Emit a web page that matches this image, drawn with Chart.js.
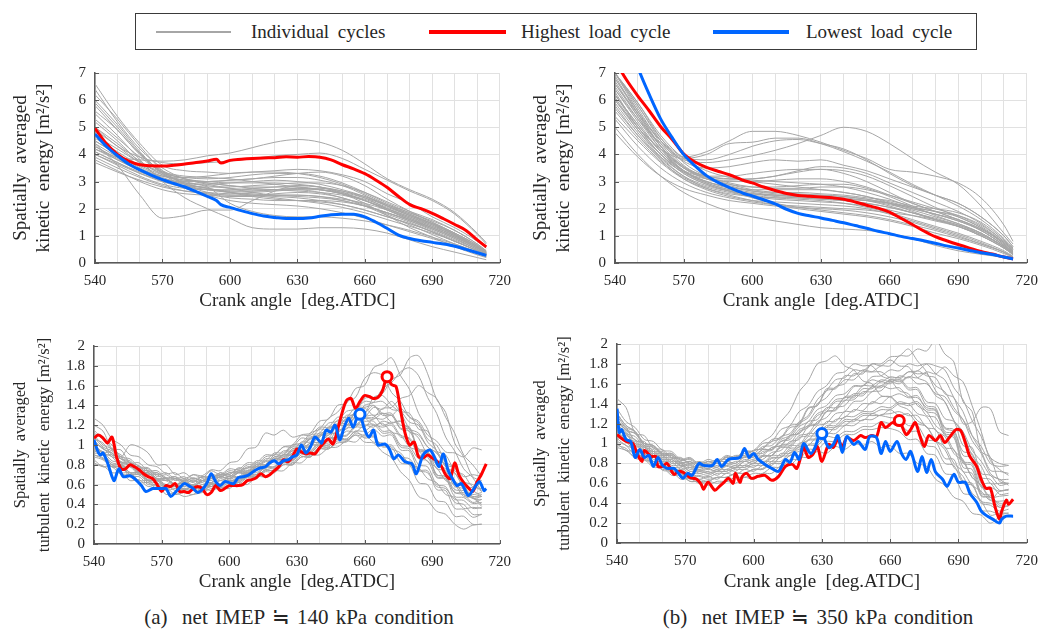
<!DOCTYPE html>
<html>
<head>
<meta charset="utf-8">
<title>Kinetic energy and turbulent kinetic energy over crank angle</title>
<script src="https://cdn.jsdelivr.net/npm/chart.js@4.4.1/dist/chart.umd.min.js"></script>
<style>
  html, body { margin: 0; padding: 0; background: #fff; }
  body { width: 1047px; height: 631px; position: relative; overflow: hidden;
         font-family: "Liberation Serif", "Times New Roman", serif; color: #262626; }
  canvas { position: absolute; }
  #legend { position: absolute; left: 135px; top: 13px; width: 842px; height: 37px;
            border: 1px solid #3a3a3a; box-sizing: border-box; }
  .sw { position: absolute; top: 50%; }
  .lt { position: absolute; top: 50%; transform: translateY(-52%); font-size: 19px;
        word-spacing: 4px; white-space: nowrap; }
  .cap { position: absolute; top: 605px; font-size: 21px; white-space: nowrap;
         transform: translateX(-50%); word-spacing: 2px; }
</style>
</head>
<body>
<div id="legend">
  <div class="sw" style="left:20px;width:75px;height:2px;margin-top:-1px;background:#a6a6a6"></div>
  <div class="lt" style="left:115px">Individual cycles</div>
  <div class="sw" style="left:293px;width:77px;height:4px;margin-top:-2px;background:#ff0000"></div>
  <div class="lt" style="left:385px">Highest load cycle</div>
  <div class="sw" style="left:577px;width:76px;height:4px;margin-top:-2px;background:#0066ff"></div>
  <div class="lt" style="left:670px">Lowest load cycle</div>
</div>
<canvas id="keA" width="520" height="257" style="left:0;top:55px"></canvas>
<canvas id="keB" width="527" height="257" style="left:520px;top:55px"></canvas>
<canvas id="tkeA" width="520" height="277" style="left:0;top:316px"></canvas>
<canvas id="tkeB" width="527" height="279" style="left:520px;top:314px"></canvas>
<div class="cap" style="left:299px">(a)&nbsp; net IMEP ≒ 140 kPa condition</div>
<div class="cap" style="left:818px">(b)&nbsp; net IMEP ≒ 350 kPa condition</div>
<script>
// ---------- crank angle grids [deg.ATDC] ----------
const ANGLES_10 = [540,550,560,570,580,590,600,610,620,630,640,650,660,670,680,690,700,710,714];
const ANGLES_5 = [540,545,550,555,560,565,570,575,580,585,590,594,596,600,605,610,615,620,625,630,635,640,645,650,655,660,665,670,675,680,685,690,695,700,705,710,714];
const TKE_ANGLES = [540,544,548,552,556,560,564,568,572,576,580,584,588,592,596,600,604,608,612,616,620,624,628,632,636,640,644,648,652,656,660,664,668,672,676,680,684,688,692,696,700,704,708,712];

// ---------- (a) 140 kPa : spatially averaged kinetic energy [m2/s2] ----------
const keA_cycles = [
  [4.2,3.9,3.8,3.75,3.8,3.95,4.05,4.25,4.45,4.55,4.45,4.15,3.65,3.1,2.7,2.35,1.85,1.1,0.75],
  [5.0,4.3,3.9,3.7,3.65,3.7,3.75,3.85,3.95,4.0,4.05,3.85,3.45,3.05,2.65,2.3,1.8,1.05,0.7],
  [6.6,5.4,4.4,3.6,3.4,3.35,3.3,3.35,3.4,3.45,3.4,3.25,3.0,2.55,2.2,1.7,1.3,0.8,0.55],
  [4.4,3.6,2.5,1.65,1.75,1.95,1.95,2.3,2.65,2.85,2.8,2.55,2.2,1.75,1.3,0.95,0.6,0.3,0.2],
  [5.5,4.7,3.8,3.0,2.4,2.0,1.65,1.3,1.25,1.25,1.3,1.3,1.25,1.1,0.85,0.6,0.4,0.2,0.12],
  [6.2,5.3,4.3,3.4,2.9,2.6,2.5,2.5,2.55,2.6,2.55,2.4,2.1,1.75,1.4,1.05,0.7,0.4,0.25],
  [5.8,4.9,4.0,3.3,3.0,2.85,2.75,2.7,2.7,2.7,2.6,2.4,2.15,1.8,1.5,1.15,0.8,0.45,0.3],
  [4.0,3.6,3.2,2.9,2.75,2.7,2.7,2.75,2.8,2.85,2.8,2.65,2.4,2.0,1.65,1.3,0.95,0.55,0.35],
  [4.3,3.8,3.4,3.1,2.95,2.9,2.95,3.0,3.05,3.0,2.9,2.7,2.45,2.1,1.8,1.45,1.05,0.6,0.4],
  [3.8,3.4,3.0,2.7,2.55,2.5,2.45,2.45,2.5,2.5,2.45,2.3,2.1,1.85,1.55,1.2,0.85,0.5,0.3],
  [4.5,4.0,3.55,3.2,3.05,3.0,3.05,3.1,3.2,3.3,3.35,3.2,2.85,2.35,1.9,1.5,1.1,0.65,0.4],
  [6.0,5.1,4.1,3.3,2.8,2.5,2.3,2.2,2.15,2.1,2.0,1.85,1.65,1.4,1.15,0.9,0.65,0.35,0.22],
  [5.2,4.5,3.7,3.1,2.75,2.55,2.4,2.35,2.3,2.3,2.25,2.15,1.95,1.7,1.45,1.15,0.8,0.45,0.28],
  [4.1,3.7,3.3,3.0,2.85,2.8,2.8,2.85,2.9,2.95,2.95,2.85,2.6,2.25,1.9,1.6,1.2,0.7,0.45],
  [4.6,4.1,3.6,3.25,3.05,2.95,2.85,2.75,2.7,2.65,2.6,2.5,2.3,2.0,1.7,1.4,1.05,0.6,0.38],
  [5.6,4.9,4.0,3.4,3.1,3.0,2.95,2.95,2.95,2.9,2.8,2.6,2.3,1.95,1.6,1.3,0.95,0.55,0.35],
  [3.9,3.5,3.15,2.85,2.65,2.55,2.5,2.5,2.45,2.4,2.3,2.15,1.95,1.7,1.45,1.15,0.8,0.45,0.28],
  [4.9,4.3,3.7,3.3,3.15,3.1,3.15,3.25,3.3,3.3,3.2,2.95,2.6,2.2,1.85,1.5,1.1,0.65,0.42],
  [4.4,3.9,3.4,3.0,2.8,2.7,2.6,2.5,2.4,2.3,2.2,2.05,1.85,1.6,1.35,1.1,0.8,0.45,0.25],
  [6.4,5.2,4.2,3.5,3.1,2.9,2.75,2.6,2.5,2.45,2.4,2.3,2.1,1.85,1.55,1.25,0.9,0.5,0.3],
  [4.2,3.8,3.45,3.2,3.15,3.2,3.3,3.35,3.35,3.3,3.15,2.9,2.55,2.15,1.8,1.45,1.05,0.6,0.38],
  [4.0,3.65,3.3,3.05,2.9,2.75,2.6,2.45,2.35,2.3,2.3,2.25,2.1,1.85,1.6,1.3,0.95,0.55,0.32],
  [5.0,4.4,3.75,3.25,2.95,2.8,2.2,1.9,1.75,1.7,1.7,1.65,1.55,1.4,1.2,0.95,0.7,0.4,0.25],
  [4.7,4.2,3.7,3.35,3.2,3.15,3.1,3.0,2.9,2.8,2.7,2.55,2.35,2.05,1.75,1.45,1.1,0.65,0.42],
  [3.7,3.35,3.05,2.8,2.65,2.6,2.55,2.6,2.65,2.7,2.7,2.6,2.4,2.1,1.75,1.45,1.05,0.6,0.35],
  [5.3,4.6,3.9,3.35,3.1,2.95,2.85,2.8,2.8,2.8,2.7,2.55,2.3,2.0,1.7,1.35,1.0,0.55,0.35],
  [4.3,3.85,3.4,3.05,2.85,2.7,2.6,2.55,2.5,2.5,2.45,2.35,2.2,1.95,1.65,1.35,1.0,0.6,0.36],
  [5.9,5.0,4.05,3.35,2.95,2.75,2.65,2.65,2.7,2.75,2.7,2.55,2.3,1.95,1.6,1.25,0.9,0.5,0.3],
  [4.5,4.0,3.5,3.15,2.9,2.75,2.65,2.65,2.7,2.75,2.75,2.65,2.45,2.15,1.85,1.55,1.2,0.7,0.45],
  [4.1,3.7,3.35,3.1,3.0,3.0,3.05,3.1,3.15,3.15,3.05,2.85,2.5,2.1,1.75,1.4,1.0,0.6,0.38]
];
const keA_high = [4.96,4.4,4.0,3.75,3.62,3.58,3.57,3.6,3.65,3.7,3.76,3.82,3.68,3.78,3.82,3.85,3.87,3.88,3.91,3.9,3.92,3.9,3.8,3.62,3.47,3.29,3.05,2.78,2.45,2.15,2.0,1.83,1.63,1.42,1.2,0.85,0.59];
const keA_low = [4.75,4.3,3.95,3.65,3.43,3.24,3.07,2.93,2.8,2.63,2.45,2.3,2.15,2.05,1.93,1.82,1.73,1.68,1.64,1.64,1.66,1.72,1.78,1.8,1.8,1.7,1.5,1.27,1.03,0.9,0.82,0.76,0.7,0.62,0.5,0.38,0.28];

// ---------- (b) 350 kPa : spatially averaged kinetic energy [m2/s2] ----------
const keB_cycles = [
  [6.2,5.0,4.2,3.8,3.7,3.8,3.95,4.15,4.4,4.7,5.0,4.85,4.4,3.85,3.35,2.9,2.1,1.1,0.7],
  [6.6,5.5,4.5,3.9,4.1,4.5,4.85,4.85,4.7,4.45,4.15,3.85,3.45,3.35,3.2,2.95,2.4,1.4,0.8],
  [6.4,5.3,4.4,3.85,4.0,4.4,4.45,4.6,4.6,4.4,4.1,3.75,3.35,2.9,2.5,2.1,1.6,0.9,0.55],
  [7.0,5.8,4.6,3.9,3.8,4.0,4.3,4.5,4.55,4.4,4.2,3.8,3.3,2.85,2.5,2.2,1.7,1.0,0.6],
  [6.8,5.6,4.5,3.75,3.5,3.55,3.7,3.8,3.75,3.8,3.6,3.4,3.1,2.8,2.5,2.2,1.7,1.0,0.6],
  [6.0,4.9,4.0,3.4,3.2,3.2,3.3,3.4,3.45,3.45,3.3,3.0,2.6,2.2,1.9,1.6,1.25,0.75,0.45],
  [5.0,4.0,3.2,2.6,2.2,1.9,1.7,1.55,1.42,1.3,1.25,1.2,1.1,0.9,0.65,0.45,0.32,0.2,0.12],
  [4.8,3.9,3.2,2.75,2.5,2.3,2.2,2.1,2.05,2.0,1.95,1.85,1.7,1.5,1.25,1.0,0.7,0.4,0.22],
  [6.3,5.0,4.0,3.3,2.9,2.65,2.5,2.4,2.35,2.3,2.2,2.05,1.85,1.6,1.35,1.1,0.8,0.45,0.25],
  [7.0,5.6,4.3,3.4,2.95,2.7,2.55,2.5,2.45,2.45,2.4,2.3,2.1,1.85,1.6,1.35,1.0,0.55,0.3],
  [6.7,5.4,4.2,3.4,3.0,2.8,2.7,2.7,2.7,2.7,2.6,2.45,2.2,1.9,1.6,1.35,1.0,0.55,0.32],
  [5.6,4.6,3.75,3.15,2.8,2.6,2.45,2.35,2.3,2.25,2.2,2.1,1.95,1.75,1.55,1.35,1.05,0.6,0.35],
  [6.1,4.9,3.9,3.2,2.75,2.5,2.3,2.15,2.0,1.9,1.8,1.7,1.55,1.35,1.1,0.9,0.65,0.35,0.2],
  [7.0,5.9,4.6,3.7,3.2,2.95,2.8,2.75,2.75,2.8,2.8,2.7,2.5,2.25,2.0,1.75,1.35,0.75,0.45],
  [6.5,5.3,4.2,3.5,3.1,2.85,2.65,2.55,2.5,2.5,2.45,2.35,2.2,2.0,1.8,1.6,1.25,0.7,0.4],
  [5.9,4.8,3.85,3.2,2.85,2.65,2.55,2.5,2.45,2.4,2.35,2.3,2.15,1.95,1.7,1.45,1.1,0.6,0.35],
  [5.3,4.3,3.5,2.95,2.6,2.4,2.25,2.15,2.1,2.05,2.0,1.95,1.85,1.75,1.6,1.4,1.05,0.6,0.35],
  [7.0,5.7,4.4,3.55,3.15,3.0,3.0,3.05,3.1,3.1,3.0,2.8,2.5,2.2,1.9,1.6,1.2,0.65,0.38],
  [6.9,5.5,4.3,3.5,3.1,2.9,2.8,2.8,2.85,2.9,2.9,2.75,2.45,2.1,1.75,1.45,1.1,0.6,0.35],
  [6.2,5.1,4.1,3.4,3.0,2.8,2.65,2.6,2.6,2.55,2.5,2.4,2.3,2.1,2.0,1.85,1.5,0.85,0.5],
  [5.8,4.7,3.8,3.1,2.7,2.45,2.3,2.25,2.2,2.15,2.1,2.0,1.8,1.55,1.3,1.05,0.75,0.4,0.22],
  [6.6,5.4,4.3,3.55,3.2,3.1,3.1,3.2,3.35,3.45,3.4,3.2,2.85,2.45,2.05,1.7,1.3,0.75,0.45],
  [5.4,4.5,3.7,3.1,2.75,2.55,2.45,2.4,2.4,2.35,2.3,2.2,2.05,1.85,1.6,1.35,1.0,0.55,0.32],
  [7.0,5.8,4.5,3.6,3.15,2.9,2.7,2.6,2.55,2.5,2.45,2.35,2.2,2.0,1.8,1.55,1.2,0.65,0.4],
  [6.4,5.2,4.1,3.35,2.95,2.7,2.55,2.45,2.4,2.35,2.3,2.2,2.05,1.85,1.65,1.4,1.1,0.6,0.35],
  [6.0,5.0,4.0,3.3,2.9,2.65,2.4,2.2,2.05,1.95,1.85,1.75,1.6,1.4,1.2,0.95,0.7,0.4,0.23],
  [5.7,4.7,3.9,3.35,3.1,3.05,3.1,3.2,3.4,3.55,3.5,3.3,2.95,2.6,2.25,1.9,1.45,0.8,0.5],
  [6.8,5.5,4.3,3.5,3.2,3.1,3.05,3.0,2.95,2.9,2.8,2.6,2.35,2.05,1.8,1.55,1.2,0.65,0.4],
  [7.0,5.9,4.7,3.85,3.4,3.15,3.0,2.9,2.8,2.7,2.6,2.45,2.25,2.05,1.9,1.7,1.3,0.7,0.42],
  [6.2,5.1,4.1,3.4,3.0,2.75,2.6,2.5,2.45,2.4,2.35,2.3,2.2,2.05,1.9,1.75,1.4,0.8,0.5]
];
const keB_high = [7.45,6.75,6.15,5.6,5.02,4.55,4.02,3.72,3.52,3.38,3.25,3.12,3.05,2.95,2.8,2.67,2.56,2.49,2.46,2.43,2.4,2.35,2.25,2.13,2.02,1.87,1.65,1.42,1.18,0.97,0.82,0.68,0.55,0.43,0.33,0.22,0.15];
const keB_low = [9.6,8.4,7.2,6.2,5.3,4.62,4.0,3.58,3.22,2.97,2.78,2.64,2.57,2.47,2.33,2.18,1.98,1.83,1.74,1.66,1.57,1.48,1.38,1.28,1.17,1.08,0.98,0.9,0.82,0.73,0.63,0.55,0.46,0.38,0.31,0.22,0.15];

// ---------- (a) 140 kPa : spatially averaged turbulent kinetic energy [m2/s2] ----------
const tkeA_cycles = [
  [1.05,0.96,0.92,0.83,0.8,0.71,0.72,0.64,0.64,0.58,0.65,0.59,0.64,0.67,0.61,0.69,0.68,0.74,0.76,0.83,0.83,0.9,0.9,1.0,0.99,1.1,1.07,1.2,1.19,1.33,1.32,1.48,1.52,1.66,1.71,1.88,1.9,1.72,1.46,1.33,1.02,0.88,0.68,0.64],
  [1.12,1.06,0.95,0.9,0.82,0.79,0.73,0.72,0.66,0.66,0.63,0.67,0.64,0.7,0.69,0.74,0.73,0.8,0.8,0.88,0.9,0.98,1.0,1.1,1.12,1.24,1.26,1.4,1.42,1.57,1.6,1.78,1.82,1.88,1.7,1.56,1.32,1.16,0.94,0.82,0.64,0.57,0.46,0.45],
  [0.95,0.92,0.8,0.8,0.7,0.72,0.64,0.64,0.58,0.6,0.54,0.59,0.53,0.6,0.58,0.64,0.62,0.68,0.68,0.75,0.74,0.82,0.8,0.88,0.88,0.96,0.96,1.02,1.03,1.1,1.03,1.02,0.93,0.87,0.73,0.64,0.48,0.44,0.33,0.3,0.2,0.15,0.19,0.2],
  [1.27,1.2,1.06,1.0,0.9,0.88,0.8,0.78,0.71,0.72,0.66,0.7,0.67,0.74,0.7,0.76,0.75,0.82,0.82,0.9,0.9,0.98,0.98,1.07,1.06,1.16,1.15,1.25,1.24,1.33,1.29,1.3,1.2,1.22,1.1,1.07,0.96,0.93,0.8,0.76,0.62,0.58,0.48,0.48],
  [0.98,0.9,0.97,0.88,1.0,0.98,0.92,0.8,0.8,0.7,0.72,0.66,0.68,0.68,0.7,0.7,0.76,0.74,0.82,0.8,0.88,0.88,0.94,0.96,1.02,1.03,1.1,1.13,1.2,1.2,1.27,1.2,1.22,1.13,1.1,0.98,0.94,0.83,0.77,0.64,0.6,0.48,0.47,0.4],
  [0.9,0.86,0.78,0.78,0.7,0.7,0.64,0.66,0.6,0.66,0.64,0.7,0.69,0.75,0.74,0.82,0.84,0.96,0.98,1.12,1.1,1.15,1.08,1.1,1.1,1.18,1.18,1.28,1.28,1.38,1.38,1.4,1.3,1.3,1.16,1.14,0.96,0.94,0.76,0.74,0.58,0.56,0.48,0.5],
  [0.85,0.78,0.78,0.7,0.7,0.62,0.62,0.56,0.57,0.5,0.52,0.5,0.56,0.54,0.57,0.56,0.62,0.6,0.68,0.68,0.74,0.74,0.82,0.82,0.9,0.9,0.97,0.98,1.04,1.03,1.1,1.03,1.02,0.96,0.92,0.8,0.77,0.66,0.62,0.5,0.47,0.36,0.37,0.36],
  [1.02,0.97,0.88,0.86,0.78,0.78,0.7,0.7,0.64,0.66,0.6,0.65,0.6,0.66,0.64,0.68,0.67,0.72,0.72,0.78,0.77,0.86,0.86,0.95,0.94,1.04,1.04,1.15,1.16,1.28,1.28,1.38,1.36,1.44,1.34,1.32,1.16,1.14,0.94,0.9,0.74,0.7,0.58,0.62],
  [1.08,0.98,0.94,0.86,0.82,0.73,0.74,0.66,0.66,0.58,0.6,0.58,0.64,0.58,0.66,0.64,0.72,0.72,0.78,0.78,0.86,0.86,0.96,0.98,1.06,1.08,1.17,1.18,1.27,1.33,1.47,1.48,1.5,1.4,1.32,1.16,1.07,0.9,0.84,0.7,0.64,0.5,0.47,0.38],
  [0.92,0.9,0.82,0.8,0.72,0.72,0.64,0.64,0.57,0.61,0.55,0.58,0.56,0.62,0.6,0.66,0.65,0.71,0.7,0.78,0.78,0.86,0.85,0.93,0.92,1.0,1.0,1.08,1.06,1.14,1.07,1.08,0.99,1.0,0.88,0.86,0.74,0.72,0.58,0.56,0.45,0.44,0.36,0.37],
  [1.0,0.92,0.88,0.78,0.78,0.7,0.72,0.64,0.66,0.6,0.62,0.6,0.66,0.64,0.7,0.68,0.74,0.72,0.8,0.8,0.9,0.9,1.0,1.02,1.12,1.16,1.27,1.33,1.44,1.48,1.67,1.73,1.7,1.53,1.44,1.28,1.22,1.06,1.0,0.83,0.77,0.63,0.6,0.53],
  [0.8,0.79,0.72,0.72,0.64,0.65,0.58,0.6,0.54,0.56,0.53,0.55,0.54,0.58,0.57,0.62,0.62,0.68,0.67,0.74,0.74,0.8,0.8,0.88,0.88,0.96,0.96,1.04,1.04,1.12,1.1,1.16,1.09,1.1,0.95,0.94,0.75,0.74,0.55,0.54,0.36,0.35,0.27,0.3],
  [1.15,1.06,1.0,0.88,0.86,0.78,0.77,0.7,0.72,0.66,0.68,0.63,0.68,0.66,0.72,0.68,0.74,0.73,0.8,0.8,0.88,0.9,0.98,0.98,1.08,1.1,1.18,1.2,1.3,1.3,1.37,1.3,1.32,1.23,1.24,1.13,1.1,0.98,0.92,0.8,0.77,0.68,0.7,0.68],
  [0.96,0.93,0.84,0.82,0.72,0.73,0.65,0.66,0.58,0.6,0.58,0.6,0.56,0.61,0.6,0.64,0.64,0.69,0.7,0.77,0.76,0.84,0.84,0.92,0.92,1.0,1.0,1.09,1.09,1.18,1.18,1.27,1.26,1.3,1.2,1.18,0.95,0.92,0.68,0.66,0.48,0.47,0.41,0.42],
  [1.04,0.96,0.92,0.82,0.8,0.72,0.72,0.65,0.66,0.6,0.62,0.58,0.64,0.62,0.68,0.66,0.72,0.71,0.78,0.78,0.86,0.86,0.94,0.94,1.02,1.03,1.12,1.12,1.2,1.2,1.27,1.26,1.32,1.3,1.37,1.28,1.24,1.1,1.04,0.93,0.92,0.88,0.97,0.95],
  [0.88,0.85,0.78,0.78,0.7,0.7,0.62,0.62,0.56,0.58,0.55,0.58,0.58,0.61,0.6,0.64,0.64,0.7,0.7,0.78,0.78,0.84,0.84,0.92,0.93,1.02,1.02,1.1,1.1,1.2,1.2,1.21,1.12,1.12,0.98,0.96,0.8,0.78,0.6,0.58,0.42,0.4,0.3,0.3],
  [0.98,0.9,0.9,0.8,0.8,0.72,0.72,0.66,0.66,0.6,0.64,0.58,0.64,0.62,0.68,0.66,0.72,0.7,0.78,0.78,0.86,0.88,0.96,0.98,1.07,1.08,1.17,1.18,1.27,1.28,1.4,1.43,1.57,1.63,1.74,1.78,1.7,1.48,1.32,1.08,0.94,0.76,0.67,0.53],
  [1.06,1.02,0.9,0.88,0.78,0.78,0.7,0.72,0.66,0.68,0.64,0.66,0.64,0.68,0.68,0.72,0.72,0.77,0.78,0.84,0.84,0.9,0.9,0.98,0.98,1.1,1.1,1.2,1.2,1.28,1.24,1.24,1.14,1.14,1.0,0.98,0.86,0.84,0.67,0.66,0.52,0.52,0.46,0.48],
  [0.82,0.78,0.8,0.72,0.72,0.64,0.64,0.58,0.6,0.54,0.56,0.54,0.6,0.58,0.64,0.62,0.68,0.68,0.76,0.76,0.84,0.84,0.92,0.92,1.0,1.0,1.07,1.06,1.14,1.13,1.2,1.18,1.24,1.22,1.24,1.16,1.12,0.98,0.92,0.78,0.72,0.58,0.57,0.56],
  [0.94,0.9,0.8,0.8,0.72,0.72,0.64,0.64,0.58,0.6,0.56,0.58,0.55,0.6,0.58,0.64,0.63,0.69,0.68,0.75,0.74,0.82,0.82,0.9,0.9,0.98,0.98,1.06,1.05,1.1,1.08,1.09,0.98,0.98,0.82,0.8,0.62,0.6,0.44,0.42,0.28,0.28,0.2,0.2],
  [1.1,1.0,0.96,0.86,0.84,0.76,0.76,0.68,0.7,0.64,0.66,0.62,0.68,0.66,0.72,0.7,0.77,0.76,0.84,0.84,0.92,0.92,1.0,1.0,1.1,1.12,1.22,1.24,1.34,1.36,1.44,1.43,1.44,1.36,1.34,1.23,1.2,1.03,0.94,0.78,0.72,0.58,0.54,0.48],
  [0.9,0.87,0.78,0.78,0.68,0.68,0.6,0.6,0.5,0.52,0.48,0.5,0.52,0.56,0.56,0.6,0.6,0.67,0.66,0.73,0.72,0.8,0.8,0.88,0.88,0.98,0.98,1.06,1.06,1.14,1.14,1.2,1.18,1.2,1.08,1.06,0.9,0.88,0.7,0.68,0.52,0.5,0.42,0.45],
  [1.0,0.93,0.92,0.83,0.82,0.74,0.74,0.66,0.67,0.6,0.62,0.59,0.64,0.62,0.68,0.66,0.72,0.7,0.78,0.78,0.86,0.85,0.92,0.92,1.0,1.0,1.07,1.08,1.17,1.18,1.27,1.28,1.37,1.38,1.47,1.5,1.6,1.53,1.47,1.28,1.12,0.9,0.8,0.68],
  [1.2,1.14,0.96,0.95,0.82,0.82,0.74,0.74,0.67,0.68,0.62,0.64,0.62,0.68,0.67,0.72,0.72,0.78,0.78,0.86,0.86,0.94,0.94,1.03,1.03,1.12,1.12,1.22,1.22,1.32,1.32,1.4,1.32,1.32,1.17,1.16,0.94,0.92,0.7,0.68,0.55,0.54,0.5,0.52]
];
const tkeA_highAngles = [540,542,544,546,548,550,552,554,556,558,560,562,564,566,568,570,572,574,576,578,580,582,584,586,588,590,592,594,596,598,600,602,604,606,608,610,612,614,616,618,620,622,624,626,628,630,632,634,636,638,640,642,644,646,648,650,652,654,656,658,660,662,664,666,668,670,672,674,676,678,680,682,684,686,688,690,692,694,696,698,700,702,704,706,708,710,712,714];
const tkeA_high = [1.07,1.10,1.07,1.02,1.08,0.88,0.76,0.76,0.80,0.78,0.75,0.71,0.68,0.66,0.60,0.53,0.59,0.58,0.61,0.53,0.53,0.52,0.56,0.58,0.56,0.50,0.52,0.59,0.54,0.56,0.59,0.59,0.59,0.60,0.64,0.65,0.67,0.71,0.68,0.70,0.74,0.78,0.85,0.83,0.88,0.96,0.93,0.91,0.92,0.91,0.97,1.02,1.06,1.01,1.15,1.32,1.45,1.47,1.37,1.44,1.50,1.49,1.47,1.48,1.55,1.69,1.61,1.59,1.35,1.12,1.00,1.03,0.88,0.87,0.90,0.87,0.84,0.79,0.70,0.66,0.82,0.69,0.62,0.57,0.53,0.63,0.71,0.81];
const tkeA_lowAngles = [540,542,543,544,546,548,549,551,553,556,558,561,563,566,568,570,572,574,576,578,580,582,584,586,588,590,592,594,596,598,600,602,604,606,608,610,612,614,616,618,620,622,624,626,628,630,632,634,636,638,640,641,643,645,647,649,651,653,655,657,658,660,662,664,666,669,671,673,675,678,681,683,686,689,691,693,695,697,699,701,703,706,708,711,713,714];
const tkeA_low = [1.05,0.92,0.90,0.92,0.82,0.68,0.64,0.76,0.68,0.69,0.66,0.59,0.53,0.56,0.56,0.56,0.56,0.48,0.52,0.57,0.61,0.59,0.56,0.52,0.55,0.61,0.71,0.63,0.59,0.63,0.62,0.61,0.67,0.68,0.69,0.72,0.75,0.77,0.78,0.82,0.84,0.81,0.84,0.85,0.88,0.90,1.00,0.92,0.98,1.08,1.04,1.02,1.15,1.13,1.20,1.05,1.18,1.27,1.18,1.30,1.31,1.16,1.08,1.15,1.00,1.01,0.96,0.86,0.90,0.83,0.81,0.71,0.90,0.95,0.88,0.78,0.91,0.75,0.66,0.59,0.61,0.49,0.54,0.63,0.54,0.56];

// ---------- (b) 350 kPa : spatially averaged turbulent kinetic energy [m2/s2] ----------
const tkeB_cycles = [
  [1.3,1.18,1.12,0.98,0.97,0.88,0.88,0.8,0.82,0.76,0.82,0.8,0.87,0.86,0.92,0.93,1.02,1.08,1.22,1.33,1.52,1.63,1.8,1.83,1.88,1.78,1.74,1.63,1.6,1.48,1.47,1.38,1.34,1.23,1.17,1.03,0.97,0.8,0.72,0.58,0.52,0.43,0.52,0.53],
  [1.2,1.14,1.03,1.0,0.9,0.9,0.82,0.82,0.76,0.78,0.78,0.82,0.82,0.87,0.88,0.93,0.95,1.02,1.05,1.16,1.18,1.35,1.38,1.53,1.55,1.64,1.64,1.72,1.72,1.78,1.78,1.88,1.88,1.95,1.93,2.04,1.9,1.82,1.42,1.32,0.92,0.86,0.62,0.6],
  [1.25,1.13,1.1,0.98,0.96,0.88,0.88,0.8,0.82,0.76,0.78,0.76,0.82,0.8,0.87,0.86,0.94,0.94,1.04,1.08,1.2,1.26,1.4,1.46,1.57,1.6,1.7,1.7,1.8,1.8,1.87,1.88,1.95,1.83,1.72,1.53,1.42,1.23,1.12,0.93,0.82,0.68,0.64,0.58],
  [1.15,1.1,0.98,0.97,0.88,0.88,0.8,0.8,0.74,0.76,0.75,0.78,0.78,0.82,0.82,0.87,0.88,0.96,0.98,1.08,1.1,1.22,1.24,1.36,1.36,1.46,1.46,1.55,1.55,1.62,1.6,1.68,1.66,1.73,1.68,1.66,1.5,1.46,1.2,1.22,1.36,1.35,1.12,1.08],
  [1.05,0.98,0.94,0.84,0.82,0.73,0.72,0.64,0.65,0.6,0.62,0.6,0.62,0.6,0.66,0.64,0.7,0.7,0.78,0.78,0.86,0.86,0.92,0.9,0.97,0.94,1.0,0.98,1.02,0.96,0.98,0.9,0.9,0.8,0.77,0.64,0.58,0.46,0.42,0.3,0.28,0.2,0.26,0.28],
  [1.18,1.12,1.0,0.98,0.88,0.88,0.8,0.8,0.72,0.74,0.7,0.74,0.74,0.78,0.78,0.83,0.84,0.91,0.93,1.02,1.04,1.17,1.19,1.32,1.33,1.43,1.44,1.52,1.52,1.58,1.55,1.56,1.47,1.48,1.34,1.33,1.1,1.08,0.8,0.78,0.5,0.48,0.38,0.41],
  [1.1,1.02,1.0,0.9,0.9,0.82,0.82,0.74,0.76,0.7,0.72,0.68,0.74,0.72,0.78,0.76,0.82,0.82,0.9,0.9,1.0,1.03,1.14,1.16,1.24,1.26,1.34,1.33,1.42,1.4,1.47,1.4,1.4,1.3,1.27,1.13,1.07,0.9,0.82,0.66,0.58,0.43,0.42,0.43],
  [1.22,1.16,1.03,1.02,0.92,0.92,0.85,0.85,0.8,0.82,0.8,0.84,0.84,0.88,0.88,0.93,0.95,1.04,1.06,1.18,1.2,1.36,1.38,1.55,1.56,1.68,1.68,1.74,1.72,1.72,1.66,1.66,1.56,1.56,1.42,1.4,1.25,1.22,0.98,0.96,0.7,0.68,0.58,0.6],
  [1.0,0.93,0.92,0.83,0.82,0.74,0.74,0.68,0.7,0.64,0.67,0.64,0.7,0.68,0.74,0.72,0.78,0.78,0.87,0.88,0.97,0.98,1.07,1.08,1.17,1.18,1.24,1.23,1.3,1.28,1.34,1.28,1.3,1.2,1.17,1.03,0.94,0.76,0.67,0.5,0.42,0.28,0.3,0.3],
  [1.45,1.36,1.1,1.08,0.95,0.94,0.86,0.86,0.8,0.8,0.78,0.82,0.82,0.86,0.86,0.9,0.9,0.96,0.98,1.08,1.1,1.18,1.2,1.32,1.34,1.47,1.48,1.58,1.58,1.64,1.62,1.64,1.54,1.54,1.38,1.36,1.12,1.1,0.82,0.8,0.56,0.56,0.52,0.54],
  [1.12,1.04,1.02,0.92,0.92,0.84,0.84,0.78,0.8,0.74,0.77,0.74,0.8,0.78,0.84,0.82,0.88,0.88,0.96,0.96,1.06,1.08,1.18,1.2,1.3,1.32,1.42,1.43,1.52,1.53,1.62,1.6,1.67,1.66,1.72,1.7,1.77,1.68,1.62,1.38,1.12,0.83,0.74,0.68],
  [1.08,1.04,0.93,0.92,0.82,0.82,0.74,0.74,0.68,0.68,0.66,0.7,0.7,0.74,0.74,0.78,0.78,0.85,0.86,0.93,0.94,1.04,1.05,1.16,1.16,1.24,1.24,1.3,1.3,1.34,1.34,1.4,1.38,1.4,1.28,1.26,1.08,1.06,0.76,0.74,0.48,0.46,0.36,0.38],
  [1.2,1.1,1.07,0.96,0.94,0.86,0.86,0.78,0.79,0.73,0.75,0.72,0.77,0.75,0.82,0.8,0.87,0.88,0.98,1.0,1.12,1.16,1.28,1.32,1.42,1.43,1.5,1.5,1.57,1.56,1.64,1.64,1.72,1.7,1.7,1.58,1.52,1.36,1.24,1.03,0.9,0.7,0.64,0.64],
  [0.98,0.95,0.85,0.84,0.76,0.76,0.68,0.68,0.62,0.62,0.62,0.66,0.66,0.7,0.7,0.74,0.74,0.8,0.8,0.88,0.88,0.98,0.98,1.07,1.06,1.12,1.12,1.17,1.17,1.22,1.2,1.2,1.12,1.12,0.98,0.96,0.8,0.78,0.6,0.58,0.42,0.4,0.36,0.37],
  [1.3,1.18,1.12,1.0,0.98,0.9,0.9,0.83,0.84,0.78,0.82,0.8,0.86,0.84,0.9,0.88,0.94,0.94,1.02,1.04,1.14,1.18,1.3,1.34,1.44,1.46,1.57,1.58,1.67,1.68,1.74,1.73,1.8,1.78,1.8,1.7,1.64,1.46,1.32,1.08,0.92,0.73,0.72,0.7],
  [1.14,1.1,0.97,0.96,0.86,0.86,0.78,0.78,0.72,0.72,0.7,0.72,0.72,0.76,0.76,0.8,0.8,0.86,0.86,0.95,0.96,1.07,1.08,1.18,1.18,1.27,1.27,1.32,1.32,1.37,1.36,1.42,1.4,1.42,1.32,1.3,1.15,1.12,0.92,0.9,0.66,0.64,0.53,0.54],
  [1.24,1.14,1.1,1.0,0.98,0.9,0.9,0.83,0.85,0.79,0.82,0.8,0.86,0.84,0.92,0.92,1.0,1.02,1.14,1.18,1.32,1.38,1.52,1.58,1.7,1.72,1.8,1.78,1.78,1.68,1.64,1.53,1.5,1.38,1.32,1.18,1.1,0.93,0.84,0.66,0.58,0.46,0.47,0.48],
  [1.06,1.02,0.91,0.9,0.8,0.8,0.72,0.72,0.66,0.67,0.64,0.66,0.66,0.7,0.7,0.74,0.75,0.82,0.82,0.91,0.92,1.03,1.04,1.14,1.14,1.22,1.22,1.28,1.28,1.28,1.26,1.25,1.18,1.18,1.04,1.02,0.85,0.84,0.62,0.6,0.4,0.38,0.32,0.34],
  [1.16,1.08,1.04,0.94,0.92,0.84,0.84,0.77,0.78,0.72,0.74,0.72,0.78,0.76,0.82,0.8,0.87,0.88,0.97,0.98,1.08,1.1,1.22,1.26,1.36,1.38,1.48,1.48,1.57,1.58,1.64,1.62,1.67,1.6,1.6,1.5,1.47,1.33,1.24,1.08,0.97,0.8,0.77,0.78],
  [1.02,0.98,0.88,0.88,0.78,0.78,0.7,0.7,0.64,0.64,0.62,0.66,0.66,0.7,0.7,0.74,0.74,0.8,0.8,0.88,0.88,0.99,1.0,1.1,1.1,1.18,1.18,1.24,1.24,1.29,1.3,1.32,1.28,1.28,1.16,1.14,0.96,0.94,0.72,0.7,0.47,0.46,0.4,0.41],
  [1.35,1.22,1.16,1.04,1.02,0.93,0.92,0.84,0.86,0.8,0.84,0.82,0.88,0.86,0.92,0.9,0.97,0.98,1.07,1.1,1.22,1.28,1.44,1.53,1.64,1.66,1.74,1.73,1.8,1.78,1.84,1.78,1.77,1.66,1.62,1.48,1.42,1.23,1.1,0.88,0.77,0.6,0.6,0.6],
  [1.1,1.06,0.94,0.94,0.84,0.84,0.76,0.76,0.7,0.7,0.68,0.72,0.72,0.76,0.76,0.8,0.8,0.88,0.88,0.98,0.98,1.1,1.1,1.22,1.22,1.32,1.32,1.4,1.4,1.47,1.47,1.5,1.46,1.46,1.36,1.34,1.16,1.14,0.88,0.86,0.6,0.6,0.49,0.5],
  [1.28,1.16,1.12,1.0,0.98,0.89,0.89,0.81,0.82,0.76,0.79,0.76,0.82,0.8,0.86,0.84,0.92,0.93,1.02,1.06,1.17,1.22,1.34,1.38,1.48,1.5,1.58,1.58,1.64,1.62,1.67,1.66,1.72,1.73,1.8,1.78,1.74,1.56,1.44,1.23,1.07,0.86,0.8,0.78],
  [0.96,0.93,0.86,0.86,0.78,0.78,0.7,0.7,0.62,0.62,0.58,0.62,0.62,0.66,0.66,0.7,0.7,0.76,0.76,0.84,0.84,0.94,0.94,1.02,1.02,1.09,1.09,1.14,1.14,1.16,1.15,1.12,1.04,1.04,0.9,0.88,0.7,0.68,0.5,0.48,0.33,0.32,0.29,0.3]
];
const tkeB_highAngles = [540,541,544,547,549,551,552,555,557,558,560,562,565,567,569,572,575,577,578,580,583,585,587,589,591,592,594,595,597,599,602,605,608,611,614,617,619,621,622,624,626,628,630,633,635,637,639,641,644,647,649,652,654,656,658,661,663,664,667,669,671,673,675,677,680,682,684,686,689,691,693,695,698,700,702,704,706,708,709,711,712,714];
const tkeB_high = [1.09,1.07,1.02,1.00,0.89,0.82,0.93,0.87,0.87,0.77,0.77,0.80,0.69,0.72,0.71,0.66,0.64,0.59,0.54,0.61,0.53,0.57,0.61,0.65,0.60,0.70,0.61,0.67,0.70,0.65,0.67,0.68,0.63,0.67,0.77,0.79,0.75,0.89,0.97,0.86,0.89,0.97,0.82,0.99,0.96,1.04,0.97,1.06,1.03,1.08,1.06,1.08,1.07,1.21,1.16,1.21,1.19,1.23,1.09,1.14,1.21,1.08,0.97,1.08,1.03,1.08,1.01,1.06,1.14,1.13,1.01,0.87,0.77,0.64,0.55,0.55,0.37,0.24,0.32,0.43,0.39,0.44];
const tkeB_lowAngles = [540,541,542,544,546,548,550,552,554,556,558,560,562,565,567,569,571,573,576,578,582,584,586,589,594,596,598,600,602,605,608,611,614,616,618,620,622,625,627,629,630,633,635,637,639,641,644,646,649,651,654,656,658,660,663,665,667,669,672,674,676,678,680,683,685,688,690,693,695,698,700,702,705,708,709,711,714];
const tkeB_low = [1.35,1.11,1.14,1.04,1.02,0.86,0.94,0.86,0.88,0.77,0.86,0.78,0.75,0.75,0.70,0.65,0.70,0.68,0.80,0.78,0.78,0.84,0.77,0.84,0.86,0.95,0.86,0.90,0.84,0.79,0.75,0.72,0.84,0.81,0.91,0.84,1.00,0.90,0.96,1.09,1.10,0.96,0.99,1.08,0.91,1.07,0.99,1.02,0.94,1.07,1.06,0.90,1.02,0.92,1.02,0.90,0.84,0.92,0.72,0.87,0.71,0.84,0.71,0.64,0.57,0.69,0.61,0.61,0.50,0.41,0.32,0.28,0.24,0.20,0.24,0.27,0.27];

// ---------- drawing ----------
const FONT = '"Liberation Serif", "Times New Roman", serif';
const TEXT = '#262626';
const AXIS = '#595959';
const GRID = '#e1e1e1';
const GRAY = '#a6a6a6';
const RED = '#ff0000';
const BLUE = '#0066ff';
Chart.defaults.font.family = FONT;
Chart.defaults.color = TEXT;

function points(angles, values) {
  return values.map((v, i) => ({ x: angles[i], y: v })).filter(p => p.x !== undefined);
}

// crank angle and value of the largest point from a given angle on (circled peak)
function peakAfter(angles, values, from) {
  let best = null;
  values.forEach((v, i) => {
    if (angles[i] >= from && (best === null || v > best.y)) best = { x: angles[i], y: v };
  });
  return best;
}

// short tick marks drawn on the inside of both axes
const innerTicks = {
  id: 'innerTicks',
  afterDraw(chart) {
    const { ctx, chartArea: a, scales: { x, y } } = chart;
    ctx.save();
    ctx.strokeStyle = AXIS;
    ctx.lineWidth = 1;
    x.ticks.forEach(t => {
      if (t.value % 30 !== 0) return;
      const px = Math.round(x.getPixelForValue(t.value)) + 0.5;
      ctx.beginPath(); ctx.moveTo(px, a.bottom); ctx.lineTo(px, a.bottom - 4); ctx.stroke();
    });
    y.ticks.forEach(t => {
      const py = Math.round(y.getPixelForValue(t.value)) + 0.5;
      ctx.beginPath(); ctx.moveTo(a.left, py); ctx.lineTo(a.left + 4, py); ctx.stroke();
    });
    ctx.restore();
  }
};

function panel(id, p) {
  const datasets = [];
  const smooth = p.kind === 'ke';
  const curve = {
    tension: smooth ? 0 : 0.3,
    cubicInterpolationMode: smooth ? 'monotone' : 'default'
  };
  p.cycles.forEach(c => datasets.push(Object.assign({
    data: points(p.cycleAngles, c), borderColor: GRAY, borderWidth: 1, pointRadius: 0,
    order: 3, clip: 0
  }, curve)));
  datasets.push(Object.assign({
    data: points(p.highAngles, p.high), borderColor: RED, borderWidth: 3, pointRadius: 0,
    order: 2, clip: 0
  }, curve));
  datasets.push(Object.assign({
    data: points(p.lowAngles, p.low), borderColor: BLUE, borderWidth: 3, pointRadius: 0,
    order: 1, clip: 0
  }, curve));
  if (!smooth) {
    [[p.highAngles, p.high, RED], [p.lowAngles, p.low, BLUE]].forEach(([a, v, col]) => {
      datasets.push({
        data: [peakAfter(a, v, 600)], showLine: false, pointRadius: 5, pointBorderWidth: 3,
        pointBorderColor: col, pointBackgroundColor: '#ffffff', order: 0, clip: false
      });
    });
  }
  new Chart(document.getElementById(id), {
    type: 'line',
    data: { datasets },
    plugins: [innerTicks],
    options: {
      responsive: false, animation: false, events: [],
      layout: { padding: { top: p.padTop, right: p.padRight, bottom: 0, left: 0 } },
      plugins: { legend: { display: false }, tooltip: { enabled: false } },
      scales: {
        x: {
          type: 'linear', min: 540, max: 720,
          afterFit: s => { s.height = p.xHeight; },
          border: { color: AXIS, width: 1.5 },
          grid: { color: GRID, lineWidth: 1, drawTicks: false },
          ticks: {
            stepSize: 10, autoSkip: false, maxRotation: 0, padding: 9,
            font: { size: 15 }, color: TEXT,
            callback: v => (v % 30 === 0 ? String(v) : '')
          },
          title: {
            display: true, text: 'Crank angle  [deg.ATDC]', color: TEXT,
            font: { size: 19 }, padding: { top: 0, bottom: 0 }
          }
        },
        y: {
          min: 0, max: p.yMax,
          afterFit: s => { s.width = p.yWidth; },
          border: { color: AXIS, width: 1.5 },
          grid: { color: GRID, lineWidth: 1, drawTicks: false },
          ticks: {
            stepSize: p.yStep, autoSkip: false, padding: 9, font: { size: 15 }, color: TEXT,
            callback: v => String(Math.round(v * 10) / 10)
          },
          title: {
            display: true, text: p.yTitle, color: TEXT,
            font: { size: p.yTitleSize, lineHeight: p.yTitleLine },
            padding: { top: p.yTitlePad, bottom: 0 }
          }
        }
      }
    }
  });
}

const KE_TITLE = ['Spatially  averaged', 'kinetic  energy [m\u00B2/s\u00B2]'];
const TKE_TITLE = ['Spatially  averaged', 'turbulent  kinetic  energy [m\u00B2/s\u00B2]'];

panel('keA', { kind: 'ke', cycles: keA_cycles, cycleAngles: ANGLES_10,
  highAngles: ANGLES_5, high: keA_high, lowAngles: ANGLES_5, low: keA_low,
  yMax: 7, yStep: 1, yTitle: KE_TITLE, yTitleSize: 19, yTitleLine: 1.2, yTitlePad: 10,
  yWidth: 95, xHeight: 49, padTop: 11, padRight: 18 });
panel('keB', { kind: 'ke', cycles: keB_cycles, cycleAngles: ANGLES_10,
  highAngles: ANGLES_5, high: keB_high, lowAngles: ANGLES_5, low: keB_low,
  yMax: 7, yStep: 1, yTitle: KE_TITLE, yTitleSize: 19, yTitleLine: 1.2, yTitlePad: 10,
  yWidth: 95, xHeight: 49, padTop: 11, padRight: 20 });
panel('tkeA', { kind: 'tke', cycles: tkeA_cycles, cycleAngles: TKE_ANGLES,
  highAngles: tkeA_highAngles, high: tkeA_high, lowAngles: tkeA_lowAngles, low: tkeA_low,
  yMax: 2, yStep: 0.2, yTitle: TKE_TITLE, yTitleSize: 16.5, yTitleLine: 1.5, yTitlePad: 8,
  yWidth: 94, xHeight: 49, padTop: 30, padRight: 18 });
panel('tkeB', { kind: 'tke', cycles: tkeB_cycles, cycleAngles: TKE_ANGLES,
  highAngles: tkeB_highAngles, high: tkeB_high, lowAngles: tkeB_lowAngles, low: tkeB_low,
  yMax: 2, yStep: 0.2, yTitle: TKE_TITLE, yTitleSize: 16.5, yTitleLine: 1.5, yTitlePad: 8,
  yWidth: 97, xHeight: 50, padTop: 30, padRight: 15 });
</script>
</body>
</html>
